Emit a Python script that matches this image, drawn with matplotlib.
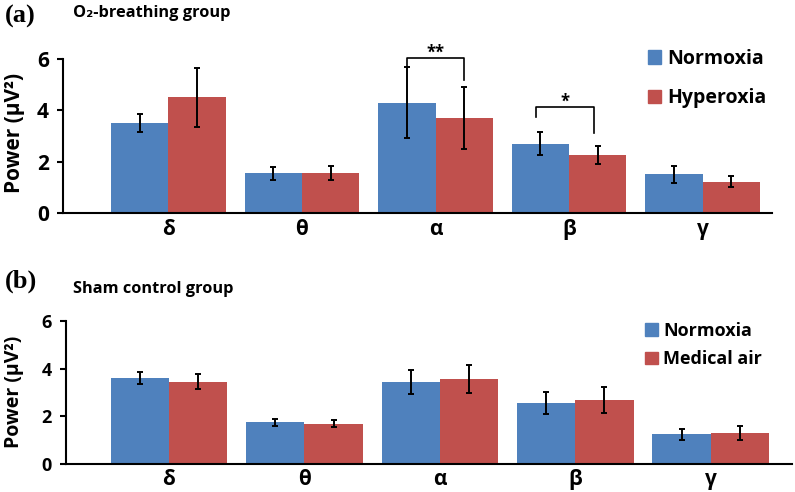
import matplotlib
matplotlib.use("Agg")
import matplotlib.pyplot as plt
import numpy as np

plt.rcParams['font.family'] = ['Open Sans', 'DejaVu Sans']
plt.rcParams['font.weight'] = 'bold'

bands = ['δ', 'θ', 'α', 'β', 'γ']

# panel (a): O2-breathing group
a_norm = [3.5, 1.55, 4.3, 2.7, 1.5]
a_norm_err = [0.35, 0.25, 1.37, 0.45, 0.33]
a_hyper = [4.5, 1.55, 3.7, 2.25, 1.22]
a_hyper_err = [1.15, 0.27, 1.22, 0.36, 0.22]

# panel (b): sham control group
b_norm = [3.6, 1.74, 3.44, 2.55, 1.23]
b_norm_err = [0.24, 0.15, 0.5, 0.48, 0.24]
b_air = [3.45, 1.68, 3.56, 2.67, 1.29]
b_air_err = [0.32, 0.15, 0.6, 0.55, 0.3]

BLUE = '#4F81BD'
RED = '#C0504D'
W, H = 795, 492


def style_axis(ax, tick_fs):
    ax.set_ylim(0, 6)
    ax.set_yticks([0, 2, 4, 6])
    ax.spines['top'].set_visible(False)
    ax.spines['right'].set_visible(False)
    ax.spines['left'].set_linewidth(1.5)
    ax.spines['bottom'].set_linewidth(1.5)
    ax.tick_params(axis='y', direction='out', length=4, width=1.5, labelsize=tick_fs, pad=6)
    ax.tick_params(axis='x', length=0, labelsize=15, pad=4)
    ax.set_xticks(range(len(bands)))
    ax.set_xticklabels(bands, fontweight='bold')
    for lbl in ax.get_yticklabels():
        lbl.set_fontweight('bold')


def draw(ax, v1, e1, v2, e2, bw):
    x = np.arange(len(bands))
    kw = dict(ecolor='black', capsize=2.5, error_kw=dict(elinewidth=1.4, capthick=1.4))
    b1 = ax.bar(x - bw / 2, v1, bw, yerr=e1, color=BLUE, **kw)
    b2 = ax.bar(x + bw / 2, v2, bw, yerr=e2, color=RED, **kw)
    return x, b1, b2


def bracket(ax, x1, x2, y, y1, y2, label):
    ax.plot([x1, x1, x2, x2], [y1, y, y, y2], color='black', lw=1.2, clip_on=False)
    ax.text((x1 + x2) / 2, y + 0.2, label, ha='center', va='center',
            fontsize=12, fontweight='bold')


fig = plt.figure(figsize=(W / 100, H / 100), dpi=100)

# ---- (a)
axa = fig.add_axes([63 / W, 1 - 213 / H, (772 - 63) / W, (213 - 59) / H])
bw = 0.43
x, _, _ = draw(axa, a_norm, a_norm_err, a_hyper, a_hyper_err, bw)
axa.set_xlim(-0.79, 4.52)
style_axis(axa, 15)
axa.set_ylabel('Power (μV²)', fontsize=15, fontweight='bold')
axa.yaxis.set_label_coords(-0.053, 0.52)
bracket(axa, x[2] - bw / 2, x[2] + bw / 2, 6.05,
        a_norm[2] + a_norm_err[2], a_hyper[2] + a_hyper_err[2] + 0.25, '**')
bracket(axa, x[3] - bw / 2 - 0.03, x[3] + bw / 2 - 0.03, 4.14, 3.74, 3.12, '*')
h1 = plt.Rectangle((0, 0), 1, 1, color=BLUE)
h2 = plt.Rectangle((0, 0), 1, 1, color=RED)
axa.legend([h1, h2], ['Normoxia', 'Hyperoxia'], loc='upper left',
           bbox_to_anchor=(0.8, 1.18), frameon=False,
           handlelength=0.7, handleheight=0.7, handletextpad=0.3,
           labelspacing=1.0, prop=dict(weight='bold', size=14))

# ---- (b)
axb = fig.add_axes([66 / W, 1 - 463.7 / H, (792 - 66) / W, (463.7 - 321) / H])
x, _, _ = draw(axb, b_norm, b_norm_err, b_air, b_air_err, bw)
axb.set_xlim(-0.76, 4.6)
style_axis(axb, 13)
axb.set_ylabel('Power (μV²)', fontsize=14, fontweight='bold')
axb.yaxis.set_label_coords(-0.058, 0.5)
axb.legend([h1, h2], ['Normoxia', 'Medical air'], loc='upper left',
           bbox_to_anchor=(0.775, 1.11), frameon=False,
           handlelength=0.7, handleheight=0.7, handletextpad=0.3,
           labelspacing=0.6, prop=dict(weight='bold', size=13))

# panel labels and titles
fig.text(5 / W, 1 - 16 / H, '(a)', family='Liberation Serif', fontweight='bold',
         fontsize=19, va='center', ha='left')
fig.text(73 / W, 1 - 13 / H, 'O₂-breathing group', fontweight='bold',
         fontsize=11.8, va='center', ha='left')
fig.text(5 / W, 1 - 281 / H, '(b)', family='Liberation Serif', fontweight='bold',
         fontsize=19, va='center', ha='left')
fig.text(73 / W, 1 - 289 / H, 'Sham control group', fontweight='bold',
         fontsize=11.8, va='center', ha='left')

fig.savefig('out.png', dpi=100)
